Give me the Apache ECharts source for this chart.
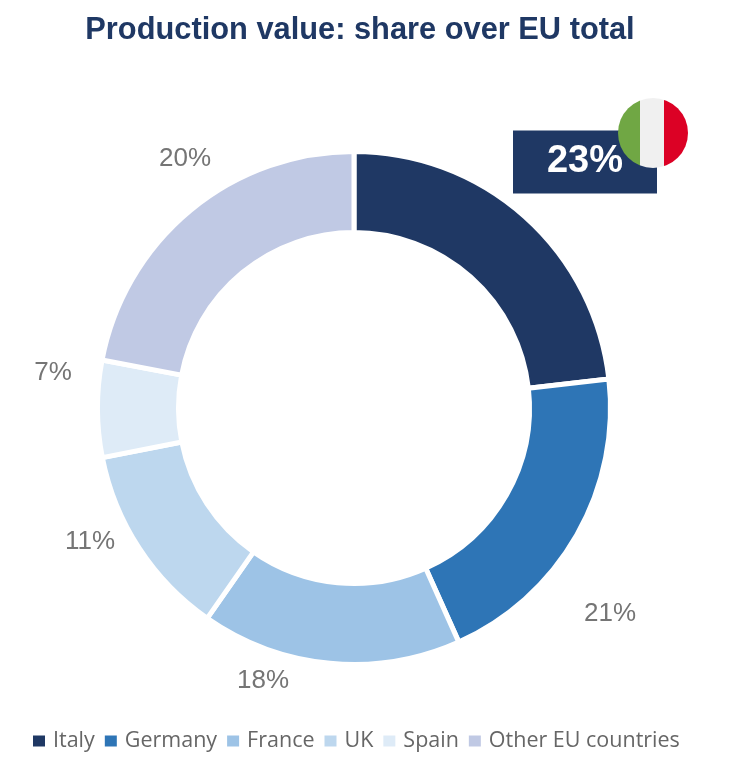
<!DOCTYPE html>
<html>
<head>
<meta charset="utf-8">
<style>
  html, body { margin: 0; padding: 0; background: #fff; }
  #container { width: 744px; height: 764px; }
</style>
<script src="https://cdn.jsdelivr.net/npm/echarts@6/dist/echarts.min.js"></script>
</head>
<body>
<div id="container"></div>
<script>
var categories = ['Italy', 'Germany', 'France', 'UK', 'Spain', 'Other EU countries'];
// slice sizes as drawn in the picture (they differ a bit from the printed labels)
var sliceValues = [23.2, 20.1, 16.4, 12.2, 6.1, 22.0];
var shareLabels = ['23%', '21%', '18%', '11%', '7%', '20%'];
var colors = ['#1f3864', '#2e75b6', '#9dc3e6', '#bdd7ee', '#deebf7', '#c0c9e4'];
var labelSpots = [[585, 162], [610, 614], [263, 681], [90, 542], [53, 373], [185, 159]];

window.onload = function() {

var chartDom = document.getElementById('container');
var myChart = echarts.init(chartDom);
var option;

var pieData = categories.map(function(name, i) {
  var item = { name: name, value: sliceValues[i], itemStyle: { color: colors[i] } };
  if (i === 0) {
    item.label = {
      color: '#fff',
      fontWeight: 'bold',
      fontSize: 38,
      backgroundColor: '#1f3864',
      width: 144,
      height: 63,
      lineHeight: 68,
      align: 'center'
    };
  }
  return item;
});

option = {
  backgroundColor: '#fff',
  animation: false,
  title: {
    text: 'Production value: share over EU total',
    left: 355,
    top: 10,
    textAlign: 'center',
    textStyle: {
      fontFamily: 'Liberation Sans',
      fontSize: 30.8,
      fontWeight: 'bold',
      color: '#1f3864'
    }
  },
  legend: {
    left: 26,
    top: 725,
    itemWidth: 14,
    itemHeight: 13,
    itemGap: 8,
    icon: 'rect',
    data: categories,
    textStyle: {
      fontFamily: 'Open Sans',
      fontSize: 21.5,
      color: '#666666',
      padding: [0, 0, 0, 2]
    }
  },
  series: [
    {
      type: 'pie',
      center: [354, 408],
      radius: [175.5, 256.5],
      startAngle: 90,
      clockwise: true,
      silent: true,
      itemStyle: { borderColor: '#fff', borderWidth: 5 },
      label: {
        show: true,
        position: 'outside',
        overflow: 'none',
        fontFamily: 'Liberation Sans',
        fontSize: 26,
        color: '#757575',
        formatter: function(p) { return shareLabels[p.dataIndex]; }
      },
      labelLine: { show: false },
      labelLayout: function(p) {
        return {
          x: labelSpots[p.dataIndex][0],
          y: labelSpots[p.dataIndex][1],
          align: 'center',
          verticalAlign: 'middle'
        };
      },
      data: pieData
    }
  ],
  graphic: [
    {
      type: 'circle',
      zlevel: 1,
      z: 101,
      shape: { cx: 653, cy: 133, r: 35 },
      style: {
        fill: new echarts.graphic.LinearGradient(0, 0, 1, 0, [
          { offset: 0, color: '#70a744' },
          { offset: 0.31, color: '#70a744' },
          { offset: 0.31, color: '#f0f0f0' },
          { offset: 0.66, color: '#f0f0f0' },
          { offset: 0.66, color: '#dc0125' },
          { offset: 1, color: '#dc0125' }
        ])
      }
    }
  ]
};

option && myChart.setOption(option);

}
</script>
</body>
</html>
